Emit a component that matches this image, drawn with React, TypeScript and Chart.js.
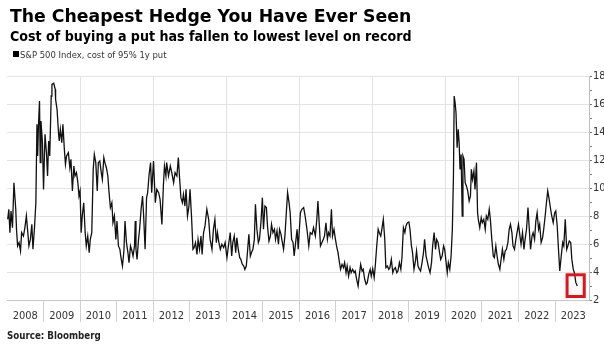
import React, { useEffect, useRef } from "react";
import { Chart, registerables } from "chart.js";

Chart.register(...registerables);

// ---- Data (decimal years, cost of 95% 1y put in % of spot) ----
const dates2008to2011 = [2008.02,2008.05,2008.08,2008.11,2008.15,2008.19,2008.24,2008.26,2008.29,2008.33,2008.37,2008.40,2008.45,2008.49,2008.53,2008.57,2008.60,2008.64,2008.68,2008.71,2008.75,2008.79,2008.82,2008.84,2008.86,2008.89,2008.91,2008.93,2008.97,2009.00,2009.04,2009.08,2009.11,2009.14,2009.17,2009.21,2009.23,2009.28,2009.32,2009.33,2009.37,2009.41,2009.43,2009.46,2009.50,2009.53,2009.57,2009.60,2009.63,2009.68,2009.72,2009.75,2009.79,2009.83,2009.86,2009.90,2009.94,2009.97,2010.00,2010.03,2010.06,2010.10,2010.14,2010.17,2010.21,2010.25,2010.28,2010.32,2010.36,2010.39,2010.43,2010.47,2010.50,2010.54,2010.58,2010.61,2010.65,2010.68,2010.72,2010.76,2010.79,2010.83,2010.87,2010.90,2010.94,2010.98,2011.01,2011.05,2011.09,2011.12,2011.16,2011.20,2011.23,2011.27,2011.31,2011.34,2011.38,2011.42,2011.45,2011.49,2011.51,2011.53,2011.56,2011.60,2011.63,2011.67,2011.71,2011.74,2011.78,2011.82,2011.85,2011.89,2011.93,2011.96];
const values2008to2011 = [7.76,8.48,6.81,8.36,7.17,10.38,8.48,7.05,5.86,6.10,5.50,6.81,6.57,7.17,8.00,6.81,5.86,6.33,7.40,5.62,7.05,8.95,14.55,12.29,14.43,16.21,11.81,14.79,13.24,9.90,13.83,12.52,10.86,13.36,12.29,16.57,17.40,17.48,17.05,16.33,15.62,13.95,13.36,14.19,13.24,14.55,12.76,11.69,12.29,12.52,11.45,12.05,9.79,11.57,10.86,11.10,10.38,9.43,9.79,6.81,8.00,8.95,6.81,5.86,6.57,5.38,6.33,6.81,11.33,12.40,11.81,9.79,11.81,11.93,11.10,10.62,12.17,11.81,11.45,10.86,9.79,8.60,8.95,7.52,8.00,6.33,7.64,5.86,5.62,5.02,4.43,5.50,7.64,6.10,5.38,4.67,5.86,5.50,5.14,5.86,7.64,5.62,4.90,6.33,7.05,8.48,9.43,8.00,5.62,9.31,9.67,10.98,11.81,9.67];

const dates2012to2015 = [2012.01,2012.06,2012.10,2012.15,2012.19,2012.24,2012.28,2012.31,2012.35,2012.37,2012.42,2012.47,2012.51,2012.56,2012.60,2012.65,2012.69,2012.72,2012.76,2012.80,2012.83,2012.87,2012.90,2012.94,2012.98,2013.01,2013.05,2013.09,2013.12,2013.16,2013.20,2013.23,2013.27,2013.31,2013.34,2013.38,2013.42,2013.47,2013.52,2013.56,2013.61,2013.65,2013.69,2013.73,2013.76,2013.80,2013.84,2013.88,2013.93,2013.97,2014.02,2014.06,2014.11,2014.15,2014.18,2014.22,2014.26,2014.29,2014.33,2014.37,2014.40,2014.44,2014.48,2014.51,2014.55,2014.58,2014.62,2014.66,2014.69,2014.73,2014.77,2014.80,2014.84,2014.88,2014.91,2014.95,2014.99,2015.02,2015.06,2015.10,2015.13,2015.17,2015.21,2015.24,2015.28,2015.32,2015.35,2015.39,2015.43,2015.46,2015.50,2015.53,2015.57,2015.61,2015.64,2015.68,2015.72,2015.75,2015.79,2015.83,2015.86,2015.90,2015.94,2015.97];
const values2012to2015 = [11.93,8.95,9.90,9.67,9.19,7.40,10.14,11.57,10.86,11.81,10.86,11.57,11.10,10.38,11.10,10.86,12.17,10.86,9.31,8.95,9.55,8.71,9.90,8.00,8.71,9.90,8.00,5.62,5.74,6.10,5.26,6.33,5.62,6.57,5.26,6.81,7.29,8.48,7.76,6.33,5.62,7.05,7.76,6.10,6.81,6.10,5.62,5.98,5.74,6.10,5.02,5.86,6.81,5.14,6.10,6.57,5.38,6.45,5.62,5.02,4.90,4.55,4.43,4.19,4.43,5.38,6.69,5.14,5.38,5.62,6.33,8.83,7.05,6.10,6.33,7.52,9.31,7.05,8.71,8.60,7.29,6.21,6.57,7.40,6.81,7.05,6.33,6.93,5.98,7.05,6.69,6.21,5.62,6.69,8.00,9.67,8.95,8.24,6.33,6.10,5.14,6.10,7.05,5.62];

const dates2016to2019 = [2016.03,2016.07,2016.12,2016.16,2016.21,2016.26,2016.30,2016.35,2016.39,2016.44,2016.48,2016.51,2016.55,2016.58,2016.62,2016.66,2016.69,2016.73,2016.77,2016.80,2016.84,2016.88,2016.91,2016.95,2016.99,2017.02,2017.06,2017.10,2017.13,2017.17,2017.21,2017.24,2017.28,2017.31,2017.35,2017.39,2017.42,2017.46,2017.50,2017.53,2017.57,2017.61,2017.64,2017.68,2017.72,2017.75,2017.79,2017.83,2017.86,2017.90,2017.94,2017.97,2018.01,2018.05,2018.08,2018.12,2018.16,2018.19,2018.23,2018.26,2018.30,2018.34,2018.37,2018.41,2018.45,2018.48,2018.52,2018.56,2018.59,2018.63,2018.67,2018.70,2018.74,2018.78,2018.81,2018.85,2018.89,2018.92,2018.96,2019.00,2019.03,2019.07,2019.10,2019.14,2019.18,2019.21,2019.25,2019.29,2019.32,2019.36,2019.40,2019.43,2019.47,2019.51,2019.54,2019.58,2019.62,2019.65,2019.69,2019.73,2019.76,2019.80,2019.84,2019.87,2019.91,2019.95,2019.98];
const values2016to2019 = [8.24,8.48,8.60,8.00,7.05,5.86,6.81,6.69,7.17,6.57,7.76,9.07,7.29,5.86,6.10,6.33,6.57,7.52,6.33,6.81,6.57,8.48,6.57,7.05,6.33,5.86,5.38,4.67,4.19,4.55,4.31,4.67,3.95,4.43,3.71,4.31,3.95,4.19,3.95,4.07,3.48,3.00,3.71,4.55,4.07,4.19,3.48,3.12,3.24,3.83,4.19,3.71,4.24,3.60,4.43,5.86,7.05,6.81,6.57,7.05,7.76,6.33,4.31,4.43,4.19,4.31,4.90,3.95,4.19,4.31,3.95,4.07,4.67,4.19,5.02,7.17,6.81,7.29,7.52,7.57,7.05,5.86,5.38,4.19,4.79,5.50,4.43,4.19,4.07,4.67,5.38,6.33,5.14,4.67,4.31,3.95,4.67,5.86,6.81,5.62,6.33,6.10,5.38,4.90,5.14,5.86,5.62];

const dates2020to2023 = [2020.01,2020.05,2020.08,2020.12,2020.155,2020.19,2020.22,2020.24,2020.265,2020.29,2020.32,2020.35,2020.375,2020.40,2020.43,2020.46,2020.48,2020.51,2020.54,2020.575,2020.61,2020.65,2020.685,2020.71,2020.74,2020.78,2020.81,2020.85,2020.88,2020.90,2020.94,2020.98,2021.01,2021.05,2021.09,2021.12,2021.16,2021.20,2021.23,2021.27,2021.31,2021.34,2021.38,2021.42,2021.45,2021.49,2021.53,2021.56,2021.60,2021.635,2021.67,2021.71,2021.745,2021.78,2021.82,2021.85,2021.89,2021.93,2021.96,2022.00,2022.04,2022.07,2022.11,2022.15,2022.18,2022.22,2022.26,2022.29,2022.33,2022.37,2022.40,2022.44,2022.475,2022.51,2022.55,2022.58,2022.62,2022.66,2022.69,2022.73,2022.77,2022.80,2022.84,2022.88,2022.91,2022.95,2022.99,2023.02,2023.06,2023.10,2023.13,2023.17,2023.21,2023.24,2023.28,2023.32,2023.35,2023.39,2023.43,2023.46,2023.50,2023.53,2023.57,2023.61];
const values2020to2023 = [4.90,3.95,4.67,4.19,5.14,7.05,10.86,16.57,16.10,15.38,12.88,14.19,13.24,11.33,12.40,8.00,12.29,12.05,10.38,10.14,9.79,9.07,9.43,11.33,10.62,11.21,9.90,11.81,8.24,7.76,7.17,7.88,7.52,7.76,7.05,8.00,7.76,8.48,7.76,6.33,5.14,5.02,5.86,5.02,4.55,4.19,5.02,5.62,4.90,5.50,5.62,6.10,7.05,7.40,6.81,5.86,5.62,6.33,6.81,7.40,6.57,5.98,6.81,5.62,6.33,7.05,8.60,7.29,5.62,6.57,6.81,6.33,7.64,8.24,7.05,7.40,6.10,6.45,7.05,8.00,9.07,9.79,9.19,8.48,8.00,7.52,8.24,8.36,7.29,5.38,4.07,5.14,6.10,5.86,7.76,5.62,5.86,6.21,6.10,4.90,4.19,3.95,3.24,3.00];

const yearLabels = ["2008","2009","2010","2011","2012","2013","2014","2015","2016","2017","2018","2019","2020","2021","2022","2023"];
const yTickValues = [2,3,4,5,6,7,8,9,10,11,12,13,14,15,16,17,18];
const xRange = [2008, 2023.93];
const highlightX = [2023.33, 2023.80];
const highlightY = [2.25, 3.8];

const FONT = '"DejaVu Sans Condensed", "DejaVu Sans", sans-serif';
const FONT_WIDE = '"DejaVu Sans", sans-serif';

const allDates = [...dates2008to2011, ...dates2012to2015, ...dates2016to2019, ...dates2020to2023];
const allValues = [...values2008to2011, ...values2012to2015, ...values2016to2019, ...values2020to2023];

const highlightPlugin = {
  id: "highlightBox",
  afterDatasetsDraw(chart: any) {
    const { ctx, scales } = chart;
    const x = scales.x, y = scales.y;
    const l = x.getPixelForValue(highlightX[0]);
    const r = x.getPixelForValue(highlightX[1]);
    const t = y.getPixelForValue(highlightY[1]);
    const b = y.getPixelForValue(highlightY[0]);
    ctx.save();
    ctx.strokeStyle = "#e3131b";
    ctx.lineWidth = 3;
    ctx.strokeRect(l, t, r - l, b - t);
    ctx.restore();
  },
};

export default function App() {
  const ref = useRef<HTMLCanvasElement | null>(null);
  useEffect(() => {
    if (!ref.current) return;
    const points = allDates.map((d, i) => ({ x: d, y: allValues[i] }));
    const xTickValues: number[] = [];
    yearLabels.forEach((lab) => {
      xTickValues.push(Number(lab));
      xTickValues.push(Number(lab) + 0.5);
    });
    const chart = new Chart(ref.current, {
      type: "line",
      data: {
        datasets: [
          {
            data: points,
            borderColor: "#111",
            borderWidth: 1.3,
            pointRadius: 0,
            tension: 0,
          },
        ],
      },
      options: {
        animation: false,
        responsive: false,
        layout: { padding: { left: 7, top: 76, right: 0, bottom: 0 } },
        plugins: { legend: { display: false }, tooltip: { enabled: false } },
        scales: {
          x: {
            type: "linear",
            min: xRange[0],
            max: xRange[1],
            afterBuildTicks: (scale: any) => {
              scale.ticks = xTickValues.map((v) => ({ value: v }));
            },
            afterFit: (scale: any) => {
              scale.height = 45;
            },
            grid: {
              drawTicks: true,
              tickLength: 22,
              color: (c: any) => {
                const v = c.tick ? c.tick.value : 0;
                return Number.isInteger(v) && v % 2 === 0 && v > 2008 ? "#e2e2e2" : "rgba(0,0,0,0)";
              },
              tickColor: (c: any) => {
                const v = c.tick ? c.tick.value : 0;
                return Number.isInteger(v) && v > 2008 ? "#d0d0d0" : "rgba(0,0,0,0)";
              },
            },
            border: { display: true, color: "#c8c8c8", width: 1 },
            ticks: {
              autoSkip: false,
              maxRotation: 0,
              minRotation: 0,
              padding: -12,
              color: "#333",
              font: { family: FONT, size: 11 },
              callback: (v: any) => {
                const n = Number(v);
                return Number.isInteger(n) ? "" : yearLabels[Math.floor(n) - 2008];
              },
            },
          },
          y: {
            position: "right",
            min: 2,
            max: 18,
            afterBuildTicks: (scale: any) => {
              scale.ticks = yTickValues.map((v) => ({ value: v }));
            },
            afterFit: (scale: any) => {
              scale.width = 15;
            },
            grid: {
              drawTicks: true,
              tickLength: 3,
              color: (c: any) => {
                const v = c.tick ? c.tick.value : 0;
                return v % 2 === 0 && v > 2 ? "#e4e4e4" : "rgba(0,0,0,0)";
              },
              tickColor: "#777",
            },
            border: { display: true, color: "#bdbdbd", width: 1 },
            ticks: {
              autoSkip: false,
              padding: 1,
              color: "#333",
              font: { family: FONT, size: 11 },
              callback: (v: any) => (Number(v) % 2 === 0 ? String(v) : ""),
            },
          },
        },
      },
      plugins: [highlightPlugin],
    });
    return () => chart.destroy();
  }, []);

  return (
    <div style={{ position: "absolute", left: 0, top: 0, width: 604, height: 345, overflow: "hidden", background: "#fff" }}>
      <canvas ref={ref} width={604} height={345} style={{ position: "absolute", left: 0, top: 0 }} />
      <div style={{ position: "absolute", left: 10, top: 8, fontFamily: FONT_WIDE, fontWeight: 700, fontSize: 17.3, lineHeight: 1, color: "#000", whiteSpace: "nowrap" }}>
        The Cheapest Hedge You Have Ever Seen
      </div>
      <div style={{ position: "absolute", left: 10, top: 29, fontFamily: FONT, fontWeight: 700, fontSize: 14.1, lineHeight: 1, color: "#000", whiteSpace: "nowrap" }}>
        Cost of buying a put has fallen to lowest level on record
      </div>
      <div style={{ position: "absolute", left: 13, top: 51, width: 6, height: 6, background: "#000" }} />
      <div style={{ position: "absolute", left: 20, top: 50, fontFamily: FONT, fontSize: 9.4, lineHeight: 1, color: "#333", whiteSpace: "nowrap" }}>
        S&amp;P 500 Index, cost of 95% 1y put
      </div>
      <div style={{ position: "absolute", left: 7, top: 331, fontFamily: FONT, fontWeight: 700, fontSize: 9.7, lineHeight: 1, color: "#222", whiteSpace: "nowrap" }}>
        Source: Bloomberg
      </div>
    </div>
  );
}
